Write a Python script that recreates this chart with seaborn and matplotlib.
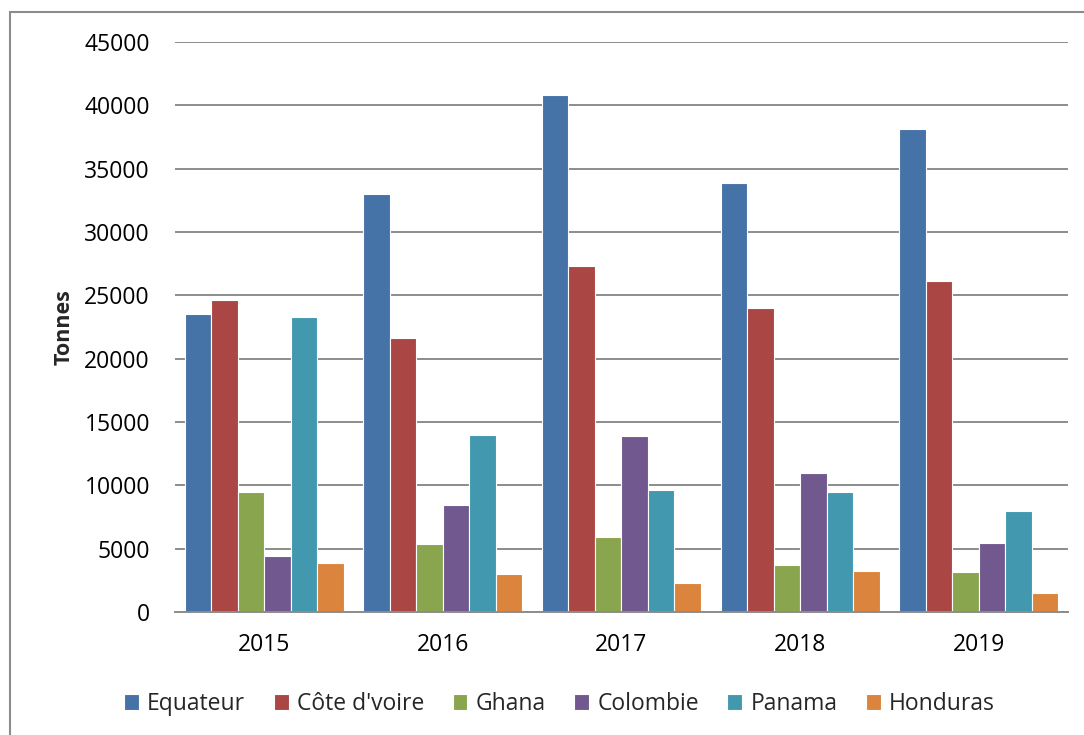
import pandas as pd
import matplotlib.pyplot as plt
import seaborn as sns
from matplotlib.patches import Rectangle

# Données
annees = ['2015', '2016', '2017', '2018', '2019']
pays = ['Equateur', "Côte d'voire", 'Ghana', 'Colombie', 'Panama', 'Honduras']
equateur = [23500, 33000, 40800, 33900, 38150]
cote_divoire = [24600, 21600, 27300, 24000, 26150]
ghana = [9500, 5400, 5950, 3700, 3150]
colombie = [4450, 8450, 13900, 10950, 5450]
panama = [23300, 14000, 9600, 9500, 7950]
honduras = [3900, 3000, 2300, 3250, 1500]
couleurs = ['#4572A7', '#AA4643', '#89A54E', '#71588F', '#4198AF', '#DB843D']

series = [equateur, cote_divoire, ghana, colombie, panama, honduras]
df = pd.DataFrame({
    'annee': annees * len(pays),
    'pays': [p for p in pays for _ in annees],
    'tonnes': [v for s in series for v in s],
})

sns.set_style("white")
plt.rcParams['font.family'] = ['Open Sans', 'DejaVu Sans']

fig = plt.figure(figsize=(10.84, 7.35), dpi=100)
ax = fig.add_axes([0.1614, 0.1673, 0.8238, 0.7756])

sns.barplot(data=df, x='annee', y='tonnes', hue='pays', hue_order=pays,
            palette=couleurs, width=0.89, edgecolor='white', linewidth=0.8,
            saturation=1, ax=ax)

ax.set_ylim(0, 45000)
ax.set_xlim(-0.5, 4.5)
ax.set_yticks(range(0, 45001, 5000))
ax.yaxis.grid(True, color='#8c8c8c', linewidth=1.4)
ax.set_axisbelow(True)
for s in ['top', 'right', 'left']:
    ax.spines[s].set_visible(False)
ax.spines['bottom'].set_color('#8c8c8c')
ax.spines['bottom'].set_linewidth(1.4)
ax.tick_params(axis='both', length=0, labelsize=16.5, colors='black')
ax.tick_params(axis='y', pad=18)
ax.tick_params(axis='x', pad=15)
ax.set_xlabel('')
ax.set_ylabel('Tonnes', fontsize=15.5, fontweight='bold', labelpad=7)

# Légende en bas
handles, labels = ax.get_legend_handles_labels()
ax.legend_.remove()
fig.legend(handles, labels, loc='center', bbox_to_anchor=(0.516, 0.042),
           ncol=6, frameon=False, fontsize=16.5, handlelength=0.65,
           handleheight=0.65, handletextpad=0.35, columnspacing=1.25)

# Cadre de la figure
fig.patches.append(Rectangle((10 / 1084, -0.1), 1.2, 1 - 12 / 735 + 0.1,
                             transform=fig.transFigure, fill=False,
                             edgecolor='#8c8c8c', linewidth=1.5))

plt.savefig('out.png', dpi=100)
